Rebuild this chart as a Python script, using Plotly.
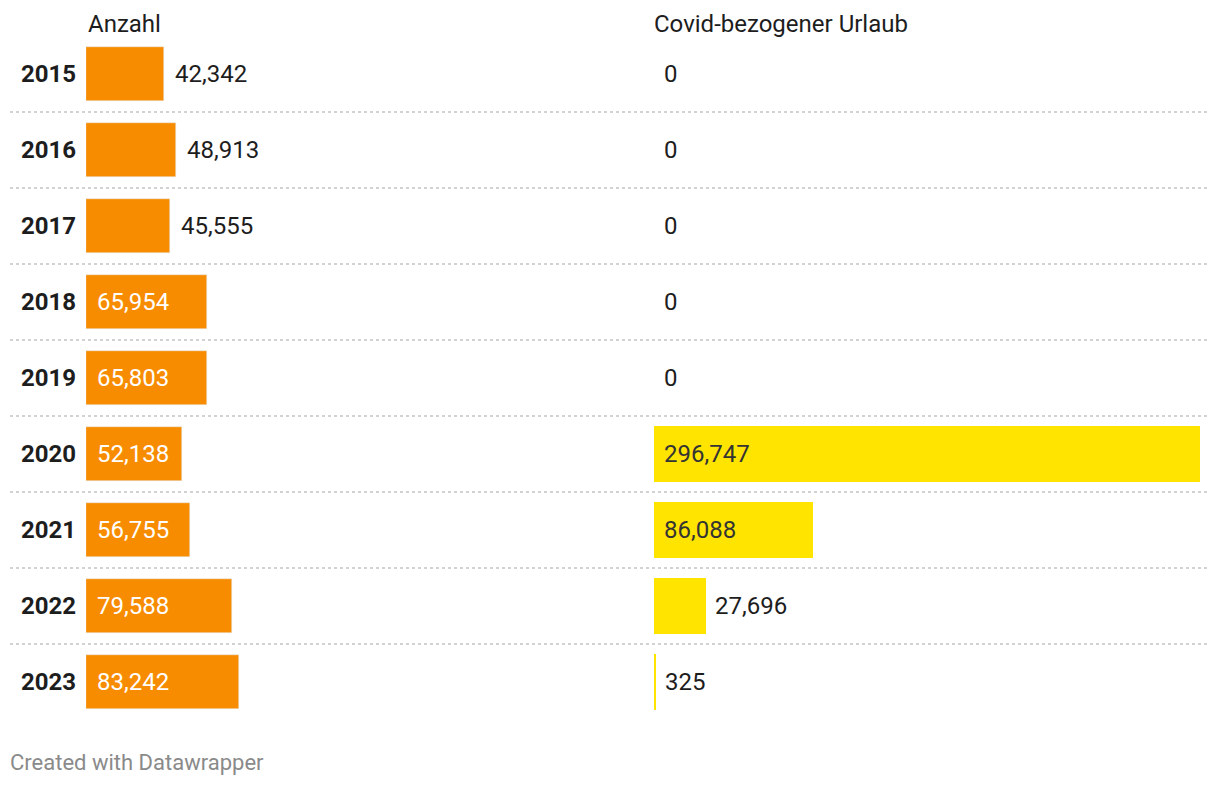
import plotly.graph_objects as go

years = ["2015", "2016", "2017", "2018", "2019", "2020", "2021", "2022", "2023"]
anzahl = [42342, 48913, 45555, 65954, 65803, 52138, 56755, 79588, 83242]
covid = [0, 0, 0, 0, 0, 296747, 86088, 27696, 325]
headers = ["Anzahl", "Covid-bezogener Urlaub"]
footer = "Created with Datawrapper"

OFF = 8  # page body margin
W, H = 1220 - OFF, 786 - OFF
ORANGE = "#F88C00"
YELLOW = "#FFE400"
FONT = "Roboto"
FS = 24


def px(x):
    return (x - OFF) / W


def py(y):
    return 1 - (y - OFF) / H


xmax = max(max(anzahl), max(covid))
idx = list(range(len(years)))

fig = go.Figure()
fig.add_trace(go.Bar(x=anzahl, y=idx, orientation="h", marker_color=ORANGE,
                     width=54 / 76, xaxis="x", yaxis="y", hoverinfo="skip"))
fig.add_trace(go.Bar(x=covid, y=idx, orientation="h", marker_color=YELLOW,
                     marker_line_color=YELLOW,
                     marker_line_width=[2 if v > 0 else 0 for v in covid],
                     width=54 / 76, xaxis="x2", yaxis="y", hoverinfo="skip"))

ann = []
for i, yr in enumerate(years):
    ann.append(dict(x=px(78), xref="paper", y=i, yref="y", text="<b>" + yr + "</b>",
                    xanchor="right", yanchor="middle", showarrow=False,
                    font=dict(family=FONT, size=FS, color="#1d1d1d")))


def fmt(v):
    return f"{v:,}"


for i, v in enumerate(anzahl):
    inside = v >= 50000
    ann.append(dict(x=0 if inside else v, xref="x", y=i, yref="y", text=fmt(v),
                    xanchor="left", yanchor="middle", showarrow=False, xshift=9,
                    font=dict(family=FONT, size=FS, color="#ffffff" if inside else "#1d1d1d")))
for i, v in enumerate(covid):
    inside = v >= 50000
    ann.append(dict(x=0 if inside else v, xref="x2", y=i, yref="y", text=fmt(v),
                    xanchor="left", yanchor="middle", showarrow=False, xshift=8,
                    font=dict(family=FONT, size=FS, color="#333333" if inside else "#1d1d1d")))

ann.append(dict(x=px(86), xref="paper", y=py(24), yref="paper", text=headers[0],
                xanchor="left", yanchor="middle", showarrow=False,
                font=dict(family=FONT, size=FS, color="#1d1d1d")))
ann.append(dict(x=px(652), xref="paper", y=py(24), yref="paper", text=headers[1],
                xanchor="left", yanchor="middle", showarrow=False,
                font=dict(family=FONT, size=FS, color="#1d1d1d")))
ann.append(dict(x=px(8), xref="paper", y=py(762), yref="paper", text=footer,
                xanchor="left", yanchor="middle", showarrow=False,
                font=dict(family=FONT, size=22, color="#8a8a8a")))

shapes = []
for i in range(len(years) - 1):
    shapes.append(dict(type="line", xref="paper", yref="y", x0=px(10), x1=px(1208),
                       y0=i + 0.5, y1=i + 0.5,
                       line=dict(color="#d2d2d2", width=2, dash="dot")))

# y axis: row i centred at page pixel 74 + 76*i
y_top = (OFF - 74) / 76
y_bot = (OFF + H - 74) / 76

fig.update_layout(
    width=W, height=H,
    margin=dict(l=0, r=0, t=0, b=0),
    paper_bgcolor="white", plot_bgcolor="white",
    showlegend=False, hovermode=False,
    bargap=0,
    xaxis=dict(domain=[px(86), px(632)], range=[0, xmax], visible=False, fixedrange=True),
    xaxis2=dict(domain=[px(654), px(1200)], range=[0, xmax], visible=False, fixedrange=True),
    yaxis=dict(range=[y_bot, y_top], visible=False, fixedrange=True),
    annotations=ann,
    shapes=shapes,
)

fig.write_html("out.html", config={"displayModeBar": False})
